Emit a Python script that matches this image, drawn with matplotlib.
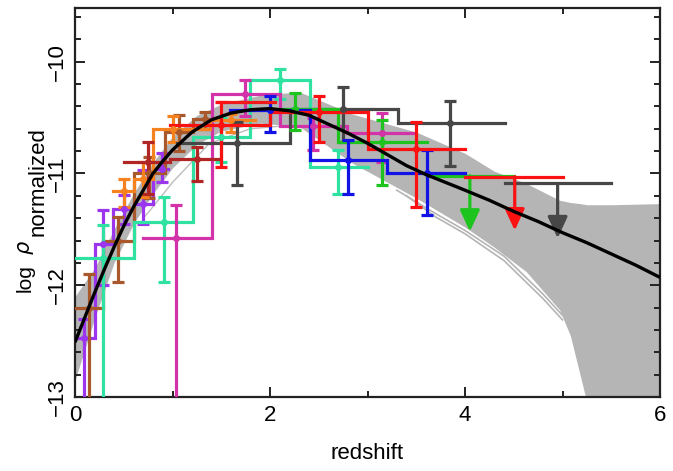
import numpy as np
import matplotlib
matplotlib.use('Agg')
import matplotlib.pyplot as plt
from matplotlib.ticker import MultipleLocator

plt.rcParams['font.family'] = ['Liberation Sans', 'DejaVu Sans']
plt.rcParams['mathtext.fontset'] = 'dejavusans'

# ---------------- data ----------------
# best-fit curve
fit_z = [0.00, 0.10, 0.20, 0.30, 0.40, 0.50, 0.60, 0.70, 0.80, 0.90, 1.00, 1.20, 1.40,
         1.60, 1.80, 2.00, 2.20, 2.40, 2.60, 2.80, 3.00, 3.20, 3.40, 3.60, 3.80, 4.00,
         4.25, 4.50, 4.75, 5.00, 5.25, 5.50, 5.75, 6.00]
fit_y = [-12.51, -12.29, -12.07, -11.86, -11.66, -11.47, -11.30, -11.15, -11.00, -10.89,
         -10.79, -10.63, -10.52, -10.46, -10.43, -10.42, -10.44, -10.48, -10.56, -10.64,
         -10.73, -10.83, -10.93, -11.01, -11.08, -11.15, -11.24, -11.34, -11.43, -11.53,
         -11.62, -11.72, -11.82, -11.93]

# envelope of the model curves (gray band)
band_z = [0.0, 0.2, 0.4, 0.6, 0.8, 1.0, 1.25, 1.5, 1.9, 2.3, 2.85, 3.5, 4.0, 4.3, 4.63,
          4.97, 5.08, 5.18, 5.25, 5.5, 6.0]
band_hi = [-12.10, -11.85, -11.50, -11.18, -10.90, -10.67, -10.48, -10.38, -10.30, -10.27,
           -10.47, -10.63, -10.82, -10.98, -11.09, -11.24, -11.26, -11.27, -11.28, -11.28, -11.27]
band_lo = [-12.85, -12.30, -11.80, -11.45, -11.18, -10.95, -10.74, -10.62, -10.55, -10.58,
           -10.91, -11.22, -11.48, -11.66, -11.88, -12.22, -12.45, -12.80, -13.05, -13.05, -13.05]

# a few outlying model curves
out1_z = [0.70, 0.77, 1.00, 1.38, 1.80, 2.20]
out1_y = [-11.40, -11.33, -11.08, -10.73, -10.60, -10.57]
out2_z = [3.30, 3.70, 4.00, 4.40, 4.80, 5.00]
out2_y = [-11.15, -11.36, -11.51, -11.74, -12.08, -12.27]
out3_z = [3.40, 3.70, 4.00, 4.40, 4.80, 5.00]
out3_y = [-11.20, -11.39, -11.54, -11.78, -12.12, -12.31]

# datasets: bin low edge, bin high edge, value, point z, error low, error high, upper limit
purple_lo = [0.02, 0.21, 0.39, 0.60, 0.80]
purple_hi = [0.21, 0.39, 0.60, 0.80, 0.95]
purple_val = [-12.47, -11.63, -11.32, -11.27, -10.96]
purple_pz = [0.09, 0.29, 0.50, 0.70, 0.89]
purple_elo = [-13.5, -12.00, -11.45, -11.45, -11.08]
purple_ehi = [-12.30, -11.33, -11.19, -10.97, -10.82]

brown_lo = [0.00, 0.29, 0.60, 0.92, 1.21]
brown_hi = [0.29, 0.60, 0.92, 1.21, 1.49]
brown_val = [-12.20, -11.60, -11.00, -10.63, -10.51]
brown_pz = [0.14, 0.44, 0.76, 1.07, 1.33]
brown_elo = [-13.5, -11.97, -11.22, -10.80, -10.60]
brown_ehi = [-11.90, -11.39, -10.85, -10.48, -10.45]

teal_lo = [0.00, 0.60, 1.21, 1.79, 2.41]
teal_hi = [0.60, 1.21, 1.79, 2.41, 3.00]
teal_val = [-11.76, -11.43, -10.67, -10.16, -10.94]
teal_pz = [0.29, 0.91, 1.50, 2.10, 2.70]
teal_elo = [-13.5, -11.97, -10.90, -10.33, -11.18]
teal_ehi = [-11.46, -11.21, -10.50, -10.07, -10.79]

magenta_lo = [0.70, 1.40, 2.10, 2.79]
magenta_hi = [1.40, 2.10, 2.79, 3.49]
magenta_val = [-11.58, -10.29, -10.58, -10.64]
magenta_pz = [1.04, 1.74, 2.44, 3.15]
magenta_elo = [-13.5, -10.49, -10.79, -10.90]
magenta_ehi = [-11.28, -10.16, -10.50, -10.46]

orange_lo = [0.39, 0.60, 0.80, 1.38]
orange_hi = [0.60, 0.80, 1.38, 1.85]
orange_val = [-11.16, -11.05, -10.60, -10.52]
orange_pz = [0.50, 0.70, 1.00, 1.60]
orange_elo = [-11.30, -11.21, -10.72, -10.63]
orange_ehi = [-11.05, -10.90, -10.49, -10.47]

darkred_lo = [0.50, 0.97]
darkred_hi = [0.97, 1.49]
darkred_val = [-10.90, -10.87]
darkred_pz = [0.75, 1.25]
darkred_elo = [-11.18, -11.07]
darkred_ehi = [-10.72, -10.76]

gray_lo = [1.05, 2.20, 3.31, 4.41]
gray_hi = [2.20, 3.31, 4.41, 5.50]
gray_val = [-10.73, -10.42, -10.55, -11.09]
gray_pz = [1.66, 2.75, 3.85, 4.95]
gray_elo = [-11.10, -10.72, -10.93, -11.58]
gray_ehi = [-10.54, -10.23, -10.35, -11.09]
gray_ul = [False, False, False, True]

green_lo = [2.00, 2.70, 3.61]
green_hi = [2.70, 3.61, 4.50]
green_val = [-10.42, -10.72, -11.02]
green_pz = [2.26, 3.15, 4.05]
green_elo = [-10.61, -11.10, -11.52]
green_ehi = [-10.28, -10.52, -11.02]
green_ul = [False, False, True]

blue_lo = [1.59, 2.41, 3.20]
blue_hi = [2.41, 3.20, 4.00]
blue_val = [-10.43, -10.88, -11.00]
blue_pz = [2.00, 2.80, 3.61]
blue_elo = [-10.63, -11.18, -11.37]
blue_ehi = [-10.31, -10.70, -10.79]

red_lo = [0.97, 2.00, 3.00, 4.00]
red_hi = [2.00, 3.00, 4.00, 5.00]
red_val = [-10.57, -10.45, -10.78, -11.03]
red_pz = [1.50, 2.50, 3.50, 4.51]
red_elo = [-10.94, -10.72, -11.30, -11.51]
red_ehi = [-10.36, -10.31, -10.54, -11.03]
red_ul = [False, False, False, True]

red2_lo = [1.47]
red2_hi = [2.05]
red2_val = [-10.36]

# ---------------- figure ----------------
W, H = 673, 471
fig = plt.figure(figsize=(W / 100, H / 100), dpi=100)
ax = fig.add_axes([75 / W, 1 - 397 / H, 585 / W, 389 / H])

ax.fill_between(band_z, band_lo, band_hi, color='#b5b5b5', lw=0, zorder=1)
ax.plot(out1_z, out1_y, color='#bdbdbd', lw=1.0, zorder=1)
ax.plot(out2_z, out2_y, color='#b5b5b5', lw=1.2, zorder=1)
ax.plot(out3_z, out3_y, color='#b5b5b5', lw=1.2, zorder=1)


def draw_set(lo, hi, val, color, pz=None, elo=None, ehi=None, ul=None, lw=2.3):
    n = len(lo)
    if ul is None:
        ul = [False] * n
    # step outline: contiguous non-UL bins are joined with vertical risers
    xs, ys = [], []
    for i in range(n):
        if i > 0 and (abs(lo[i] - hi[i - 1]) < 1e-6) and not ul[i]:
            xs += [lo[i], hi[i]]
            ys += [val[i], val[i]]
        else:
            if xs:
                ax.plot(xs, ys, color=color, lw=lw, solid_joinstyle='miter', zorder=3)
            xs, ys = [lo[i], hi[i]], [val[i], val[i]]
    if xs:
        ax.plot(xs, ys, color=color, lw=lw, solid_joinstyle='miter', zorder=3)
    if pz is None:
        return
    for i in range(n):
        if ul[i]:
            ax.annotate('', xy=(pz[i], elo[i]), xytext=(pz[i], val[i]),
                        arrowprops=dict(arrowstyle='-|>,head_length=0.65,head_width=0.3',
                                        color=color, lw=lw, mutation_scale=20,
                                        shrinkA=0, shrinkB=0), zorder=3)
        else:
            ax.errorbar([pz[i]], [val[i]], yerr=[[val[i] - elo[i]], [ehi[i] - val[i]]],
                        fmt='o', ms=4, color=color, ecolor=color, elinewidth=lw,
                        capsize=4, capthick=lw, zorder=3)


draw_set(purple_lo, purple_hi, purple_val, '#9b35ee', purple_pz, purple_elo, purple_ehi)
draw_set(brown_lo, brown_hi, brown_val, '#a8582a', brown_pz, brown_elo, brown_ehi)
draw_set(teal_lo, teal_hi, teal_val, '#30e2a2', teal_pz, teal_elo, teal_ehi)
draw_set(magenta_lo, magenta_hi, magenta_val, '#d233a8', magenta_pz, magenta_elo, magenta_ehi)
draw_set(orange_lo, orange_hi, orange_val, '#f5821f', orange_pz, orange_elo, orange_ehi)
draw_set(darkred_lo, darkred_hi, darkred_val, '#b22525', darkred_pz, darkred_elo, darkred_ehi)
draw_set(gray_lo, gray_hi, gray_val, '#474747', gray_pz, gray_elo, gray_ehi, gray_ul)
draw_set(green_lo, green_hi, green_val, '#1ec41e', green_pz, green_elo, green_ehi, green_ul)
draw_set(blue_lo, blue_hi, blue_val, '#1212e6', blue_pz, blue_elo, blue_ehi)
draw_set(red2_lo, red2_hi, red2_val, '#f01818')
draw_set(red_lo, red_hi, red_val, '#fb1111', red_pz, red_elo, red_ehi, red_ul)

ax.plot(fit_z, fit_y, color='black', lw=2.4, zorder=5, solid_capstyle='butt')

ax.set_xlim(0, 6)
ax.set_ylim(-13, -9.52)
ax.xaxis.set_major_locator(MultipleLocator(2))
ax.xaxis.set_minor_locator(MultipleLocator(1))
ax.yaxis.set_major_locator(MultipleLocator(1))
ax.yaxis.set_minor_locator(MultipleLocator(0.2))
ax.tick_params(which='both', direction='in', top=True, right=True, width=1.4, color='#222222')
ax.tick_params(which='major', length=7)
ax.tick_params(which='minor', length=4.5)
ax.tick_params(axis='x', labelsize=16, pad=6)
ax.tick_params(axis='y', labelsize=16, pad=5)
for lab in ax.get_yticklabels():
    lab.set_rotation(90)
    lab.set_va('center')
for s in ax.spines.values():
    s.set_linewidth(1.6)
    s.set_color('#222222')

ax.set_xlabel('redshift', fontsize=16, labelpad=12)
fig.text(25 / W, 1 - 292 / H, 'log', rotation=90, ha='center', va='bottom', fontsize=15)
fig.text(26 / W, 1 - 255 / H, '$\\rho$', rotation=90, ha='center', va='bottom', fontsize=15)
fig.text(38 / W, 1 - 236 / H, 'normalized', rotation=90, ha='center', va='bottom', fontsize=16)

fig.savefig('out.png', dpi=100)
